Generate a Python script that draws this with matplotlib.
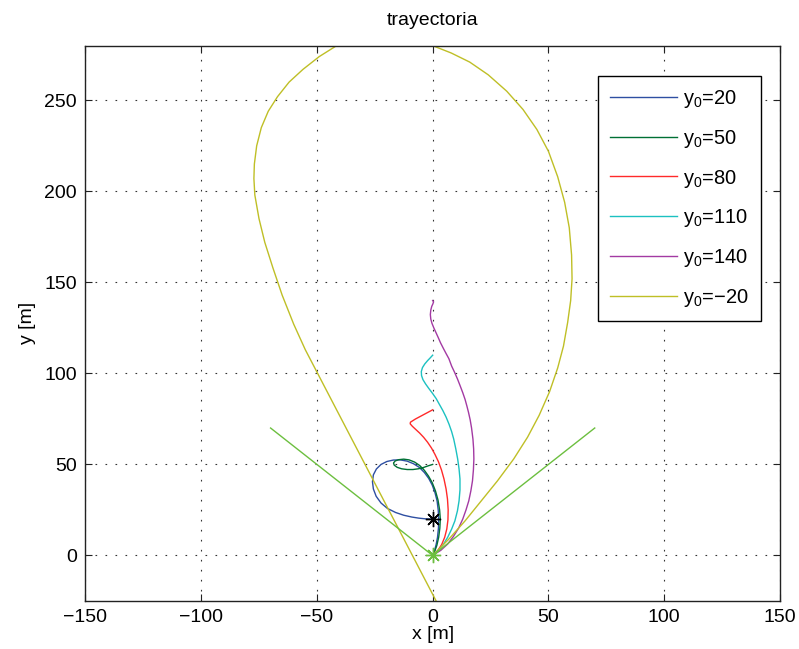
import matplotlib
matplotlib.use("Agg")
import matplotlib.pyplot as plt

plt.rcParams["font.family"] = ["Liberation Sans", "DejaVu Sans"]
plt.rcParams["mathtext.fontset"] = "custom"
plt.rcParams["mathtext.rm"] = "Liberation Sans"
plt.rcParams["lines.scale_dashes"] = False

# trajectories, in metres
x_20 = [0, -3, -6, -9, -12.5, -16, -19.5, -22.3, -24.4, -25.6, -26, -25.6, -24.3, -22.3, -19.8, -17,
        -14, -11, -8.3, -5.8, -3.6, -1.7, -0.2, 1, 1.9, 2.4, 2.6, 2.5, 2.1, 1.5, 0.8, 0]
y_20 = [20, 20.1, 20.5, 21.1, 22.1, 23.6, 25.8, 28.8, 32.5, 36.5, 40.5, 44.3, 47.5, 50, 51.6, 52.4,
        52.5, 51.8, 50.4, 48.4, 45.6, 42.3, 38.7, 34.5, 30, 25, 20, 15, 10, 6, 2.7, 0]

x_50 = [0, -2, -4, -6.2, -8.5, -11, -13.4, -15.3, -16.6, -16.9, -16.2, -14.7, -12.5, -10.2, -7.8,
        -5.6, -3.6, -1.8, -0.2, 1.2, 2.3, 3, 3.3, 3.1, 2.6, 1.8, 0.9, 0]
y_50 = [50, 49.2, 48.3, 47.6, 47.2, 47.2, 47.6, 48.4, 49.6, 50.8, 51.9, 52.6, 52.9, 52.5, 51.3,
        49.4, 46.8, 43.6, 40, 35.5, 30.5, 25, 20, 15, 10, 5.5, 2.3, 0]

x_80 = [0, -2.5, -5, -7.5, -9.6, -9.7, -8.8, -7.3, -5.6, -3.9, -2.2, -0.5, 1, 2.5, 3.8, 4.9, 5.8,
        6.4, 6.7, 6.6, 6.1, 5.2, 3.9, 2.2, 0]
y_80 = [80, 78.3, 76.6, 74.9, 73.2, 72.3, 71, 69.2, 67.2, 64.9, 62.2, 59, 55.5, 51.5, 47, 42, 36.5,
        31, 25, 19.5, 14.5, 10, 6, 2.7, 0]

x_110 = [0, -1, -2.2, -3.4, -4.4, -4.9, -4.8, -4.2, -3.1, -1.7, -0.1, 1.5, 2.9, 4.4, 5.8, 7.1, 8.2,
         9.1, 10, 10.8, 11.4, 11.8, 11.8, 11.4, 10.7, 9.6, 8.2, 6.5, 4.6, 2.4, 0]
y_110 = [110, 108.6, 107, 105.2, 103.2, 101, 98.8, 96.6, 94.3, 91.8, 89.1, 86.2, 83, 79.6, 76, 72, 68,
         63.9, 58.5, 53, 47.5, 42, 36, 30, 24.5, 19, 14.5, 10, 6, 2.6, 0]

x_140 = [0, 0.4, 0.1, -0.4, -0.8, -1, -0.8, -0.3, 0.5, 1.4, 2.4, 3.4, 4.6, 5.8, 7, 8.2, 9.5, 10.7,
         11.9, 13, 14, 14.8, 15.5, 16.2, 16.8, 17.4, 17.7, 17.8, 17.6, 17.2, 16.5, 15.6, 14.4, 13,
         11.2, 9, 6.5, 3.5, 0]
y_140 = [140, 139.3, 138.2, 136.8, 134.8, 132.3, 129.8, 127.5, 125, 122.5, 119.7, 116.8, 113.8, 110.9,
         108.1, 104, 100.5, 97, 93.1, 89.4, 85.7, 82, 78.5, 74.5, 70, 63.9, 58.5, 53, 47, 41, 35.5,
         30, 25, 20, 15, 10.5, 6.3, 2.8, 0]

x_m20 = [1.5, -55, -60, -65, -69, -72.5, -75, -76.8, -77.2, -77, -76, -74, -71, -67, -62, -56, -49,
         -41.5, -32, -20, -8, 0, 8, 16, 24, 32, 39, 45, 50, 54, 57, 59, 60, 60.2, 59.6, 58.3, 56.5,
         54, 50.5, 46, 41, 35, 28, 21, 14, 7, 0]
y_m20 = [-25, 113, 127, 143, 158, 172, 185, 198, 207, 215, 225, 235, 244, 252, 260, 267, 274,
         280, 286, 290, 287, 280, 276, 271, 264, 255, 245, 234, 222, 208, 194, 180, 165, 152, 140,
         128, 115, 103, 90, 77, 65, 53, 41, 30, 19, 9, 0]

cone_x = [-70, 0, 70]
cone_y = [70, 0, 70]

series = [
    (x_20, y_20, "#2e4fa2", "20"),
    (x_50, y_50, "#007034", "50"),
    (x_80, y_80, "#ff2a2a", "80"),
    (x_110, y_110, "#1cc1c1", "110"),
    (x_140, y_140, "#a33aa3", "140"),
    (x_m20, y_m20, "#bfbf26", "\u221220"),
]

fig = plt.figure(figsize=(7.99, 6.49), dpi=100)
ax = fig.add_axes([0.1068, 0.074, 0.8694, 0.8556])

for xs, ys, col, val in series:
    ax.plot(xs, ys, color=col, linewidth=1.0, label=r"$\mathregular{y_0}$=" + val)

ax.plot(cone_x, cone_y, color="#6cbf3f", linewidth=1.0)
ax.plot([0], [20], marker=(8, 2, 0), color="k", markersize=11, markeredgewidth=1.0, linestyle="none")
ax.plot([0], [0], marker=(8, 2, 0), color="#6cbf3f", markersize=11, markeredgewidth=1.0, linestyle="none")

ax.set_xlim(-150, 150)
ax.set_ylim(-25, 280)
ax.set_xticks(range(-150, 151, 50))
ax.set_yticks(range(0, 251, 50))
ax.tick_params(direction="in", length=5, width=0.8, labelsize=14, pad=6,
               top=True, right=True, colors="#222222", labelcolor="k")
ax.grid(True, color="#333333", linestyle=(0, (1.2, 6)), linewidth=0.8)
for sp in ax.spines.values():
    sp.set_linewidth(1.0)
    sp.set_color("#222222")

ax.set_title("trayectoria", fontsize=14, pad=15)
ax.set_xlabel("x [m]", fontsize=14, labelpad=0)
ax.set_ylabel("y [m]", fontsize=14, labelpad=6)

leg = ax.legend(loc="upper left", bbox_to_anchor=(0.7385, 0.9454), borderaxespad=0,
                fontsize=14.5, handlelength=3.3, handletextpad=0.3, labelspacing=0.88,
                borderpad=0.6, fancybox=False, framealpha=1, edgecolor="k")
leg.get_frame().set_linewidth(1.0)

fig.savefig("out.png", dpi=100)
